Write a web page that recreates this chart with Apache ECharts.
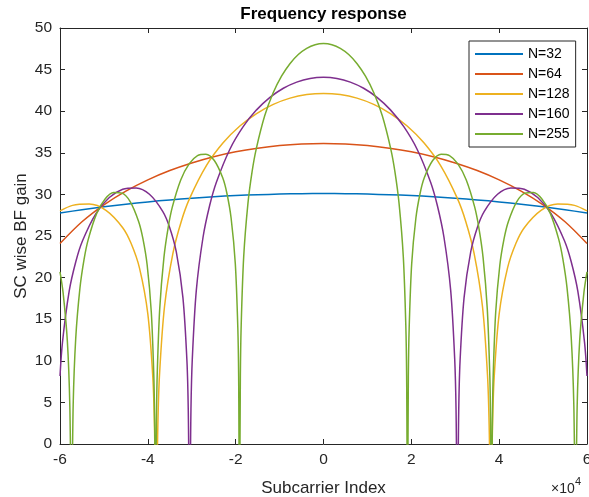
<!DOCTYPE html>
<html><head><meta charset="utf-8">
<script src="https://cdn.jsdelivr.net/npm/echarts@6/dist/echarts.min.js"></script>
<style>html,body{margin:0;padding:0;background:#fff}#c{width:589px;height:497px}</style>
</head><body><div id="c"></div><script>
// Subcarrier index in units of 1e4
const seriesNames = ['N=32','N=64','N=128','N=160','N=255'];
const colors = ['#0072BD','#D95319','#EDB120','#7E2F8E','#77AC30'];
const xTicks = [-6,-4,-2,0,2,4,6];

const x_N32 = [-6,-5.5,-5,-4.5,-4,-3.5,-3,-2.5,-2,-1.5,-1,-0.5,0,0.5,1,1.5,2,2.5,3,3.5,4,4.5,5,5.5,6];
const gain_N32 = [27.76,28.16,28.51,28.82,29.10,29.34,29.54,29.72,29.86,29.96,30.04,30.09,30.10,30.09,30.04,29.96,29.86,29.72,29.54,29.34,29.10,28.82,28.51,28.16,27.76];

const x_N64 = [-6,-5.5,-5,-4.5,-4,-3.5,-3,-2.5,-2,-1.5,-1,-0.5,0,0.5,1,1.5,2,2.5,3,3.5,4,4.5,5,5.5,6];
const gain_N64 = [24.10,26.71,28.75,30.40,31.75,32.87,33.78,34.53,35.12,35.56,35.88,36.06,36.12,36.06,35.88,35.56,35.12,34.53,33.78,32.87,31.75,30.40,28.75,26.71,24.10];

const x_N128 = [-6,-5.715,-5.334,-4.953,-4.572,-4.382,-4.191,-4.001,-3.886,-3.848,-3.810,-3.772,-3.734,-3.620,-3.429,-3.239,-3.048,-2.667,-2.286,-1.905,-1.524,-1.143,-0.762,-0.381,0,0.381,0.762,1.143,1.524,1.905,2.286,2.667,3.048,3.239,3.429,3.620,3.734,3.772,3.810,3.848,3.886,4.001,4.191,4.382,4.572,4.953,5.334,5.715,6];
const gain_N128 = [28.01,28.68,28.84,28.08,26.00,24.12,21.17,15.66,7.98,2.05,-10,2.23,8.33,16.53,22.92,26.75,29.52,33.46,36.20,38.22,39.72,40.82,41.57,42.00,42.14,42.00,41.57,40.82,39.72,38.22,36.20,33.46,29.52,26.75,22.92,16.53,8.33,2.23,-10,2.05,7.98,15.66,21.17,24.12,26.00,28.08,28.84,28.68,28.01];

const x_N160 = [-6,-5.944,-5.791,-5.639,-5.487,-5.182,-4.877,-4.572,-4.267,-3.963,-3.658,-3.505,-3.353,-3.201,-3.109,-3.079,-3.048,-3.018,-2.987,-2.896,-2.743,-2.591,-2.439,-2.134,-1.829,-1.524,-1.219,-0.914,-0.610,-0.305,0,0.305,0.610,0.914,1.219,1.524,1.829,2.134,2.439,2.591,2.743,2.896,2.987,3.018,3.048,3.079,3.109,3.201,3.353,3.505,3.658,3.963,4.267,4.572,4.877,5.182,5.487,5.639,5.791,5.944,6];
const gain_N160 = [8.17,12.22,18.36,21.93,24.42,27.69,29.62,30.62,30.78,30.02,27.94,26.06,23.11,17.60,9.92,3.99,-10,4.17,10.27,18.47,24.85,28.69,31.46,35.40,38.14,40.16,41.66,42.76,43.50,43.94,44.08,43.94,43.50,42.76,41.66,40.16,38.14,35.40,31.46,28.69,24.85,18.47,10.27,4.17,-10,3.99,9.92,17.60,23.11,26.06,27.94,30.02,30.78,30.62,29.62,27.69,24.42,21.93,18.36,12.22,8.17];

const x_N255 = [-6,-5.929,-5.833,-5.776,-5.738,-5.700,-5.642,-5.546,-5.451,-5.355,-5.164,-4.973,-4.781,-4.590,-4.399,-4.208,-4.112,-4.016,-3.921,-3.863,-3.844,-3.825,-3.806,-3.787,-3.729,-3.634,-3.538,-3.443,-3.251,-3.060,-2.869,-2.678,-2.486,-2.295,-2.199,-2.104,-2.008,-1.951,-1.932,-1.913,-1.893,-1.874,-1.817,-1.721,-1.626,-1.530,-1.339,-1.148,-0.956,-0.765,-0.574,-0.383,-0.191,
  0,0.191,0.383,0.574,0.765,0.956,1.148,1.339,1.530,1.626,1.721,1.817,1.874,1.893,1.913,1.932,1.951,2.008,2.104,2.199,2.295,2.486,2.678,2.869,3.060,3.251,3.443,3.538,3.634,3.729,3.787,3.806,3.825,3.844,3.863,3.921,4.016,4.112,4.208,4.399,4.590,4.781,4.973,5.164,5.355,5.451,5.546,5.642,5.700,5.738,5.776,5.833,5.929,6];
const gain_N255 = [20.68,18.16,12.39,4.54,-10,4.66,12.68,18.74,22.23,24.63,27.72,29.45,30.23,30.15,29.11,26.72,24.68,21.54,15.84,8.04,2.06,-10,2.15,8.21,16.27,22.41,25.98,28.47,31.74,33.67,34.67,34.83,34.07,31.99,30.11,27.16,21.65,13.97,8.04,-10,8.22,14.32,22.52,28.90,32.74,35.51,39.45,42.19,44.21,45.71,46.81,47.55,47.99,
  48.13,47.99,47.55,46.81,45.71,44.21,42.19,39.45,35.51,32.74,28.90,22.52,14.32,8.22,-10,8.04,13.97,21.65,27.16,30.11,31.99,34.07,34.83,34.67,33.67,31.74,28.47,25.98,22.41,16.27,8.21,2.15,-10,2.06,8.04,15.84,21.54,24.68,26.72,29.11,30.15,30.23,29.45,27.72,24.63,22.23,18.74,12.68,4.66,-10,4.54,12.39,18.16,20.68];

const xs = [x_N32, x_N64, x_N128, x_N160, x_N255];
const ys = [gain_N32, gain_N64, gain_N128, gain_N160, gain_N255];
const pair = (a, b) => a.map((v, i) => [v, b[i]]);

const FONT = '"Liberation Sans", Arial, Helvetica, sans-serif';
const axisCol = '#262626';

const chart = echarts.init(document.getElementById('c'), null, {renderer: 'canvas'});
chart.setOption({
  animation: false,
  backgroundColor: '#fff',
  textStyle: {fontFamily: FONT},
  title: {
    text: 'Frequency response', left: 318.5, top: 1, textAlign: 'center',
    textStyle: {fontFamily: FONT, fontSize: 17, fontWeight: 'bold', color: '#000'}
  },
  grid: {left: 60, right: 2, top: 28, bottom: 53, containLabel: false, outerBoundsMode: 'none'},
  legend: {
    orient: 'vertical', left: 469, top: 41,
    itemWidth: 48, itemHeight: 14, itemGap: 6, padding: [6, 6, 6, 5],
    borderColor: axisCol, borderWidth: 1, backgroundColor: '#fff',
    itemStyle: {opacity: 0},
    textStyle: {fontFamily: FONT, fontSize: 14, color: '#000'},
    data: seriesNames
  },
  xAxis: [{
    type: 'value', min: -6, max: 6, interval: 2, position: 'bottom',
    axisLine: {onZero: false, lineStyle: {color: axisCol, width: 1}},
    axisTick: {inside: true, length: 5, lineStyle: {color: axisCol}},
    axisLabel: {color: axisCol, fontSize: 15.5, margin: 8, fontFamily: FONT,
      formatter: v => String(xTicks[xTicks.indexOf(v)])},
    splitLine: {show: false},
    name: 'Subcarrier Index', nameLocation: 'middle', nameGap: 36, nameMoveOverlap: false,
    nameTextStyle: {fontSize: 17, color: axisCol, fontFamily: FONT}
  }, {
    type: 'value', min: -6, max: 6, interval: 2, position: 'top',
    axisLine: {onZero: false, lineStyle: {color: axisCol, width: 1}},
    axisTick: {inside: true, length: 5, lineStyle: {color: axisCol}},
    axisLabel: {show: false}, splitLine: {show: false}
  }],
  yAxis: [{
    type: 'value', min: 0, max: 50, interval: 5, position: 'left',
    axisLine: {show: true, onZero: false, lineStyle: {color: axisCol, width: 1}},
    axisTick: {show: true, inside: true, length: 5, lineStyle: {color: axisCol}},
    axisLabel: {color: axisCol, fontSize: 15.5, margin: 8, fontFamily: FONT},
    splitLine: {show: false},
    name: 'SC wise BF gain', nameLocation: 'middle', nameGap: 30, nameRotate: 90, nameMoveOverlap: false,
    nameTextStyle: {fontSize: 17, color: axisCol, fontFamily: FONT}
  }, {
    type: 'value', min: 0, max: 50, interval: 5, position: 'right',
    axisLine: {show: true, onZero: false, lineStyle: {color: axisCol, width: 1}},
    axisTick: {show: true, inside: true, length: 5, lineStyle: {color: axisCol}},
    axisLabel: {show: false}, splitLine: {show: false}
  }],
  graphic: [
    {type: 'text', left: 551, top: 482, style: {text: '×10', fontSize: 14, fill: axisCol, fontFamily: FONT}},
    {type: 'text', left: 575, top: 476, style: {text: '4', fontSize: 11, fill: axisCol, fontFamily: FONT}}
  ],
  series: seriesNames.map((n, i) => ({
    name: n, type: 'line', xAxisIndex: 0, yAxisIndex: 0,
    data: pair(xs[i], ys[i]),
    showSymbol: false, symbol: 'none', smooth: 0.3, clip: true,
    color: colors[i],
    lineStyle: {width: 1.5, color: colors[i]}
  }))
});
</script></body></html>
